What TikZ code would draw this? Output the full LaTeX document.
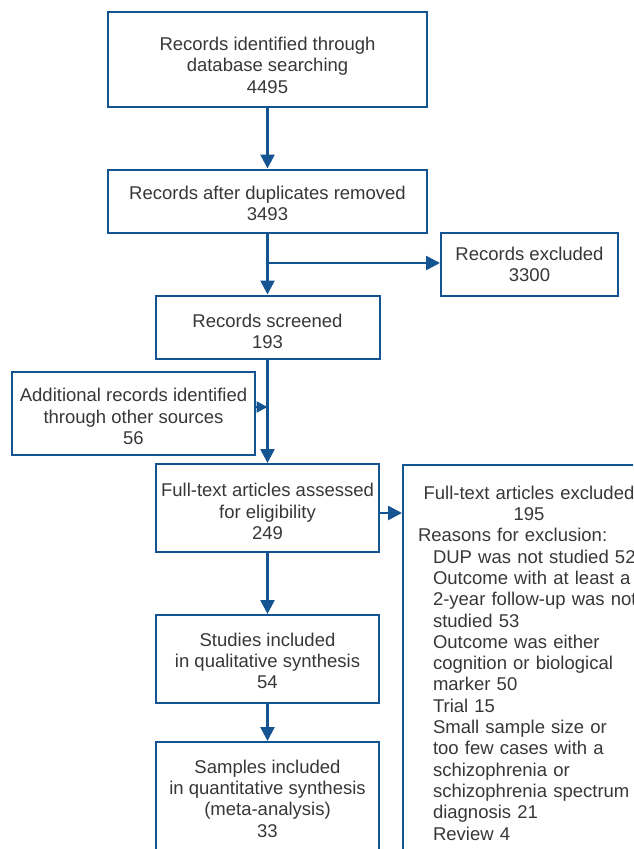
\documentclass[tikz,border=0pt]{standalone}
\usepackage{fontspec}
\setmainfont{Liberation Sans}
\usetikzlibrary{arrows.meta}
\definecolor{prismablue}{RGB}{20,85,145}
\definecolor{prismatext}{RGB}{55,55,55}
\newcommand{\topstrut}[1]{\rule{0pt}{#1}}

\begin{document}
\begin{tikzpicture}[x=1pt, y=-1pt,
    box/.style={draw=prismablue, line width=2pt, align=center, inner sep=0pt,
      text=prismatext, font=\fontsize{18.5}{21.3}\selectfont},
    flow/.style={draw=prismablue, line width=2.6pt,
      -{Triangle[length=14pt,width=14pt]}},
    side/.style={draw=prismablue, line width=2.6pt,
      -{Triangle[length=11pt,width=11pt]}}]
        \clip (0,0) rectangle (633,849);
        % identification
        \node[box, minimum width=319pt, minimum height=95pt] (rec) at (267.5,59.5)
            {\topstrut{25pt}Records identified through\\database searching\\4495};
        \node[box, minimum width=319pt, minimum height=63pt] (dup) at (267.5,201)
            {\topstrut{18.5pt}Records after duplicates removed\\3493};
        \node[box, minimum width=177pt, minimum height=63pt] (excl) at (529.5,264.5)
            {Records excluded\\3300};
        % screening
        \node[box, minimum width=224pt, minimum height=63pt] (scr) at (267.5,327)
            {\topstrut{22.5pt}Records screened\\193};
        \node[box, minimum width=243pt, minimum height=83pt] (add) at (133.5,413.5)
            {\topstrut{19.5pt}Additional records identified\\through other sources\\56};
        % eligibility
        \node[box, minimum width=223pt, minimum height=88pt] (full) at (267.5,508)
            {\topstrut{20.5pt}Full-text articles assessed\\for eligibility\\249};
        \node[box, anchor=north west, align=left, text width=250pt,
            minimum height=396pt, inner xsep=15pt] (fexcl) at (402,464)
            {\makebox[222pt]{Full-text articles excluded}\\
             \makebox[222pt]{195}\\
             Reasons for exclusion:\\
             \hspace*{15pt}DUP was not studied 52\\
             \hspace*{15pt}Outcome with at least a\\
             \hspace*{15pt}2-year follow-up was not\\
             \hspace*{15pt}studied 53\\
             \hspace*{15pt}Outcome was either\\
             \hspace*{15pt}cognition or biological\\
             \hspace*{15pt}marker 50\\
             \hspace*{15pt}Trial 15\\
             \hspace*{15pt}Small sample size or\\
             \hspace*{15pt}too few cases with a\\
             \hspace*{15pt}schizophrenia or\\
             \hspace*{15pt}schizophrenia spectrum\\
             \hspace*{15pt}diagnosis 21\\
             \hspace*{15pt}Review 4};
        % included
        \node[box, minimum width=223pt, minimum height=88pt] (stud) at (267.5,659)
            {\topstrut{17.5pt}Studies included\\in qualitative synthesis\\54};
        \node[box, minimum width=223pt, minimum height=110pt] (samp) at (267.5,797)
            {\topstrut{16.5pt}Samples included\\in quantitative synthesis\\(meta-analysis)\\33};
        % connectors
        \coordinate (br) at (267.5,263);
        \coordinate (jn) at (267.5,407);
        \draw[flow] (rec) -- (dup);
        \draw[flow] (dup) -- (scr);
        \draw[flow] (br) -- (br -| excl.west);
        \draw[flow] (scr) -- (full);
        \draw[side] (add.east |- jn) -- (jn);
        \draw[flow] ([yshift=-5pt]full.east) -- ([yshift=-5pt]full.east -| fexcl.west);
        \draw[flow] (full) -- (stud);
        \draw[flow] (stud) -- (samp);
    \end{tikzpicture}
\end{document}
